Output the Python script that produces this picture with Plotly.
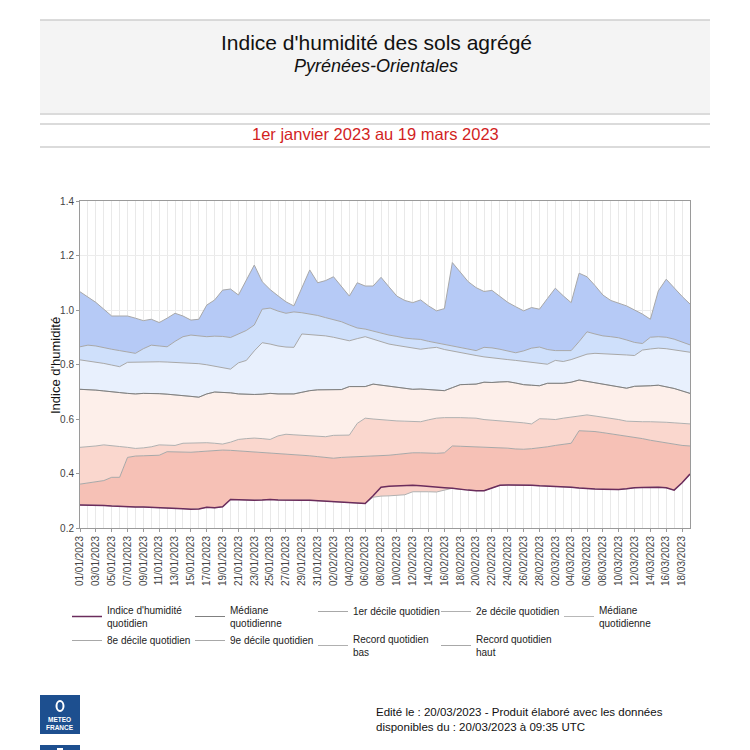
import pandas as pd
import plotly.graph_objects as go

dates = pd.date_range("2023-01-01", "2023-03-19", freq="D")

indice = [0.284, 0.284, 0.284, 0.283, 0.281, 0.279, 0.278, 0.277, 0.277, 0.276,
          0.276, 0.275, 0.273, 0.271, 0.269, 0.270, 0.276, 0.274, 0.278, 0.305,
          0.304, 0.302, 0.302, 0.303, 0.305, 0.303, 0.302, 0.302, 0.302, 0.302,
          0.300, 0.298, 0.296, 0.294, 0.293, 0.291, 0.290, 0.318, 0.350, 0.353,
          0.355, 0.356, 0.357, 0.355, 0.352, 0.350, 0.348, 0.346, 0.342, 0.339,
          0.337, 0.337, 0.347, 0.357, 0.358, 0.358, 0.358, 0.357, 0.355, 0.354,
          0.353, 0.352, 0.350, 0.347, 0.344, 0.343, 0.342, 0.342, 0.341, 0.344,
          0.348, 0.349, 0.350, 0.350, 0.348, 0.339, 0.366, 0.398]

record_bas = [0.284, 0.284, 0.284, 0.283, 0.281, 0.279, 0.278, 0.277, 0.277, 0.276,
              0.276, 0.275, 0.273, 0.271, 0.269, 0.270, 0.276, 0.274, 0.278, 0.305,
              0.304, 0.302, 0.302, 0.303, 0.305, 0.303, 0.302, 0.302, 0.302, 0.302,
              0.300, 0.298, 0.296, 0.294, 0.293, 0.291, 0.290, 0.313, 0.317, 0.318,
              0.319, 0.322, 0.333, 0.334, 0.333, 0.332, 0.340, 0.346, 0.342, 0.339,
              0.337, 0.337, 0.347, 0.357, 0.358, 0.358, 0.358, 0.357, 0.355, 0.354,
              0.353, 0.352, 0.350, 0.347, 0.344, 0.343, 0.342, 0.342, 0.341, 0.344,
              0.348, 0.349, 0.350, 0.350, 0.348, 0.339, 0.366, 0.398]

decile1 = [0.361, 0.366, 0.371, 0.374, 0.386, 0.386, 0.459, 0.464, 0.465, 0.466,
           0.467, 0.480, 0.479, 0.478, 0.478, 0.480, 0.482, 0.484, 0.486, 0.485,
           0.483, 0.482, 0.480, 0.479, 0.477, 0.474, 0.472, 0.470, 0.467, 0.465,
           0.462, 0.459, 0.456, 0.459, 0.460, 0.461, 0.462, 0.464, 0.466, 0.467,
           0.470, 0.474, 0.476, 0.476, 0.475, 0.474, 0.476, 0.501, 0.500, 0.499,
           0.498, 0.497, 0.496, 0.496, 0.493, 0.490, 0.489, 0.491, 0.494, 0.498,
           0.503, 0.508, 0.511, 0.557, 0.556, 0.554, 0.550, 0.546, 0.542, 0.537,
           0.532, 0.528, 0.522, 0.517, 0.512, 0.507, 0.503, 0.501]

decile2 = [0.496, 0.498, 0.501, 0.505, 0.503, 0.499, 0.496, 0.492, 0.494, 0.498,
           0.505, 0.504, 0.503, 0.511, 0.512, 0.513, 0.513, 0.511, 0.508, 0.515,
           0.525, 0.528, 0.530, 0.528, 0.525, 0.538, 0.544, 0.542, 0.540, 0.538,
           0.537, 0.535, 0.540, 0.541, 0.541, 0.584, 0.603, 0.600, 0.597, 0.594,
           0.593, 0.592, 0.591, 0.590, 0.597, 0.603, 0.605, 0.606, 0.605, 0.604,
           0.603, 0.598, 0.596, 0.594, 0.591, 0.589, 0.586, 0.582, 0.601, 0.600,
           0.598, 0.603, 0.607, 0.611, 0.615, 0.611, 0.607, 0.603, 0.598, 0.592,
           0.590, 0.590, 0.590, 0.590, 0.588, 0.586, 0.584, 0.582]

mediane = [0.709, 0.708, 0.706, 0.703, 0.701, 0.697, 0.694, 0.692, 0.694, 0.694,
           0.693, 0.691, 0.689, 0.686, 0.683, 0.680, 0.692, 0.699, 0.698, 0.696,
           0.692, 0.690, 0.690, 0.691, 0.694, 0.692, 0.691, 0.692, 0.698, 0.704,
           0.707, 0.708, 0.708, 0.708, 0.719, 0.719, 0.719, 0.728, 0.724, 0.720,
           0.716, 0.712, 0.709, 0.710, 0.708, 0.706, 0.704, 0.715, 0.726, 0.727,
           0.728, 0.735, 0.734, 0.736, 0.737, 0.732, 0.726, 0.724, 0.722, 0.731,
           0.731, 0.731, 0.735, 0.743, 0.738, 0.733, 0.729, 0.724, 0.718, 0.713,
           0.720, 0.720, 0.722, 0.724, 0.719, 0.712, 0.703, 0.694]

decile8 = [0.817, 0.813, 0.810, 0.804, 0.798, 0.792, 0.808, 0.809, 0.810, 0.811,
           0.810, 0.809, 0.808, 0.807, 0.806, 0.803, 0.799, 0.794, 0.789, 0.783,
           0.806, 0.815, 0.850, 0.880, 0.875, 0.868, 0.864, 0.863, 0.912, 0.910,
           0.909, 0.905, 0.900, 0.894, 0.887, 0.895, 0.902, 0.893, 0.884, 0.875,
           0.870, 0.865, 0.860, 0.856, 0.860, 0.863, 0.855, 0.849, 0.843, 0.838,
           0.833, 0.828, 0.824, 0.821, 0.818, 0.815, 0.812, 0.808, 0.804, 0.801,
           0.815, 0.811, 0.818, 0.829, 0.838, 0.841, 0.840, 0.839, 0.837, 0.835,
           0.833, 0.853, 0.857, 0.860, 0.858, 0.854, 0.850, 0.845]

decile9 = [0.865, 0.871, 0.868, 0.861, 0.856, 0.851, 0.846, 0.841, 0.858, 0.871,
           0.868, 0.865, 0.885, 0.902, 0.908, 0.905, 0.902, 0.904, 0.903, 0.899,
           0.912, 0.925, 0.945, 1.003, 1.007, 0.996, 0.988, 0.993, 0.990, 0.985,
           0.980, 0.972, 0.965, 0.957, 0.945, 0.934, 0.930, 0.922, 0.915, 0.908,
           0.903, 0.897, 0.894, 0.892, 0.885, 0.879, 0.873, 0.868, 0.862, 0.857,
           0.851, 0.863, 0.861, 0.856, 0.850, 0.843, 0.850, 0.860, 0.864, 0.855,
           0.851, 0.850, 0.851, 0.884, 0.920, 0.912, 0.905, 0.902, 0.898, 0.890,
           0.881, 0.877, 0.900, 0.902, 0.900, 0.893, 0.882, 0.872]

record_haut = [1.067, 1.048, 1.028, 1.003, 0.978, 0.978, 0.978, 0.970, 0.961, 0.966,
               0.954, 0.970, 0.988, 0.978, 0.963, 0.966, 1.018, 1.037, 1.073, 1.077,
               1.055, 1.110, 1.165, 1.104, 1.075, 1.052, 1.030, 1.015, 1.080, 1.147,
               1.100, 1.108, 1.122, 1.085, 1.051, 1.100, 1.088, 1.088, 1.120, 1.085,
               1.051, 1.035, 1.027, 1.037, 1.015, 0.997, 1.005, 1.174, 1.140, 1.104,
               1.082, 1.068, 1.072, 1.050, 1.028, 1.012, 0.997, 1.009, 1.003, 1.042,
               1.080, 1.052, 1.027, 1.135, 1.122, 1.090, 1.055, 1.035, 1.025, 1.015,
               1.000, 0.985, 0.966, 1.070, 1.113, 1.080, 1.050, 1.022]

legend_names = ["Indice d'humidité<br>quotidien", "Médiane<br>quotidienne",
                "1er décile quotidien", "2e décile quotidien", "Médiane<br>quotidienne",
                "8e décile quotidien", "9e décile quotidien",
                "Record quotidien<br>bas", "Record quotidien<br>haut"]

FONT = "Liberation Sans, Arial, sans-serif"

fig = go.Figure()

# stacked band fills (bottom to top)
bands = [
    (record_bas, None),
    (indice, "#f9d2c9"),
    (decile1, "#f6c1b6"),
    (decile2, "#fad7ce"),
    (mediane, "#fdefea"),
    (decile8, "#e8f0fd"),
    (decile9, "#cfe0fb"),
    (record_haut, "#b6caf6"),
]
for vals, col in bands:
    fig.add_trace(go.Scatter(
        x=dates, y=vals, mode="lines", line=dict(width=0, color="rgba(0,0,0,0)"),
        fill="tonexty" if col else None, fillcolor=col,
        showlegend=False, hoverinfo="skip"))

# boundary lines (legend entries)
line_specs = [
    (record_haut, legend_names[8], "#a8a8a8", 1, 9),
    (record_bas, legend_names[7], "#b0b0b0", 1, 8),
    (decile9, legend_names[6], "#a8a8a8", 1, 7),
    (decile8, legend_names[5], "#a8a8a8", 1, 6),
    (mediane, legend_names[4], "#b8b8b8", 1, 5),
    (decile2, legend_names[3], "#b0b0b0", 1, 4),
    (decile1, legend_names[2], "#a8a8a8", 1, 3),
    (mediane, legend_names[1], "#808080", 1, 2),
    (indice, legend_names[0], "#6b2c5c", 1.5, 1),
]
for vals, name, col, w, rank in line_specs:
    fig.add_trace(go.Scatter(
        x=dates, y=vals, mode="lines", name=name,
        line=dict(color=col, width=w), legendrank=rank))

# plot area as seen on screen (page has an 8px body margin)
OFF = 8
L, R, T, B = 80, 690, 201, 528


def px_x(px):
    return (px - L) / (R - L)


def px_y(py):
    return (B - py) / (B - T)


def hline(py):
    return dict(type="line", xref="paper", yref="paper", x0=px_x(40), x1=px_x(710),
                y0=px_y(py), y1=px_y(py), line=dict(color="#cfcfcf", width=1.5))


shapes = [
    dict(type="rect", xref="paper", yref="paper", x0=px_x(40), x1=px_x(710),
         y0=px_y(113), y1=px_y(20), fillcolor="#f4f4f4",
         line=dict(width=0), layer="below"),
    hline(20), hline(114), hline(124), hline(147),
    # logos
    dict(type="rect", xref="paper", yref="paper", x0=px_x(40), x1=px_x(80),
         y0=px_y(734), y1=px_y(695), fillcolor="#1d4f8f", line=dict(width=0)),
    dict(type="circle", xref="paper", yref="paper", x0=px_x(56.5), x1=px_x(63.5),
         y0=px_y(711), y1=px_y(701), fillcolor="rgba(0,0,0,0)",
         line=dict(color="white", width=2)),
    dict(type="rect", xref="paper", yref="paper", x0=px_x(40), x1=px_x(80),
         y0=px_y(760), y1=px_y(745), fillcolor="#1d4f8f", line=dict(width=0)),
    dict(type="rect", xref="paper", yref="paper", x0=px_x(57), x1=px_x(63),
         y0=px_y(752), y1=px_y(748), fillcolor="white", line=dict(width=0)),
]

annotations = [
    dict(text="Indice d'humidité des sols agrégé", x=px_x(376), y=px_y(43),
         font=dict(family=FONT, size=21, color="#111111")),
    dict(text="<i>Pyrénées-Orientales</i>", x=px_x(376), y=px_y(66),
         font=dict(family=FONT, size=18, color="#111111")),
    dict(text="1er janvier 2023 au 19 mars 2023", x=px_x(375), y=px_y(134),
         font=dict(family=FONT, size=16.5, color="#d21f1f")),
    dict(text="Indice d'humidité", x=px_x(55), y=px_y(366), textangle=-90,
         font=dict(family=FONT, size=13, color="#111111")),
    dict(text="<b>METEO<br>FRANCE</b>", x=px_x(60), y=px_y(723),
         font=dict(family=FONT, size=6.5, color="white")),
    dict(text="Edité le : 20/03/2023 - Produit élaboré avec les données<br>"
              "disponibles du : 20/03/2023 à 09:35 UTC",
         x=px_x(374), y=px_y(719.5), xanchor="left", align="left",
         font=dict(family=FONT, size=11.5, color="#111111")),
]
for a in annotations:
    a.setdefault("xanchor", "center")
    a.update(xref="paper", yref="paper", yanchor="middle", showarrow=False)

fig.update_layout(
    width=750, height=750,
    margin=dict(l=L - OFF, r=750 - (R - OFF), t=T - OFF, b=750 - (B - OFF)),
    paper_bgcolor="white", plot_bgcolor="white",
    font=dict(family=FONT, color="#222222"),
    shapes=shapes, annotations=annotations,
    hovermode=False,
    legend=dict(orientation="h", traceorder="normal",
                x=px_x(67), y=px_y(597), xanchor="left", yanchor="top",
                entrywidth=78, font=dict(family=FONT, size=10, color="#222222"),
                bgcolor="rgba(0,0,0,0)", tracegroupgap=0, itemwidth=30),
)

fig.update_xaxes(
    range=[dates[0], dates[-1]], tick0=dates[0], dtick=2 * 86400000,
    tickformat="%d/%m/%Y", tickangle=-90, tickfont=dict(size=10, color="#444444"),
    showgrid=True, gridcolor="#e9e9e9", gridwidth=1,
    minor=dict(dtick=86400000, showgrid=True, gridcolor="#e9e9e9"),
    showline=True, linecolor="#9a9a9a", linewidth=1, mirror=True,
    ticks="outside", ticklen=3, tickcolor="#9a9a9a", zeroline=False,
)
fig.update_yaxes(
    range=[0.2, 1.4], dtick=0.2, tick0=0.2, tickformat=".1f",
    tickfont=dict(size=10, color="#444444"),
    showgrid=True, gridcolor="#ececec", zeroline=False,
    showline=True, linecolor="#9a9a9a", linewidth=1, mirror=True,
    ticks="outside", ticklen=3, tickcolor="#9a9a9a",
)

fig.write_html("out.html")
